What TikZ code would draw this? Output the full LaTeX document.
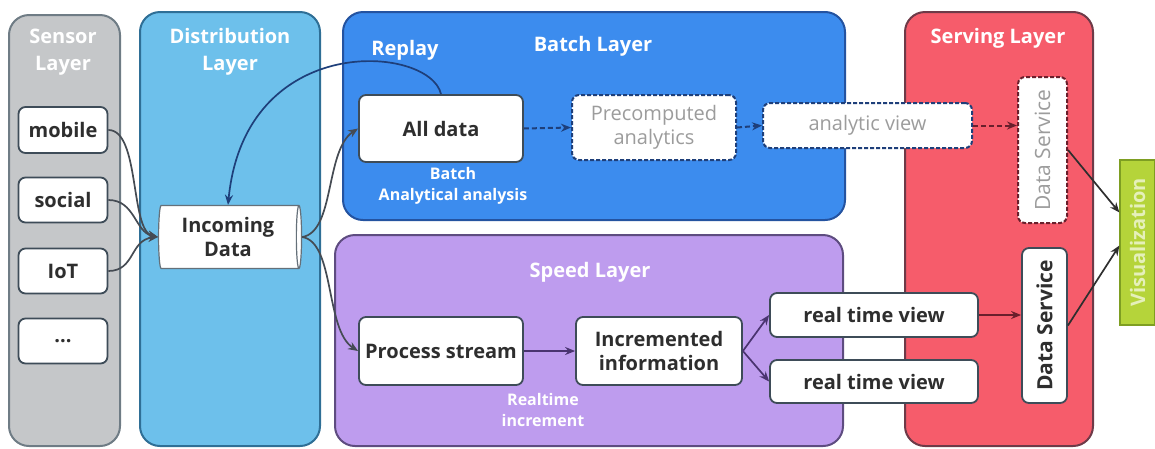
\documentclass[tikz,border=0pt]{standalone}
\usepackage{fontspec}
\usepackage{graphicx}
\setmainfont{Open Sans}
\usetikzlibrary{shapes.geometric,arrows.meta,calc}

\definecolor{sensorbg}{HTML}{C5C7C9}
\definecolor{sensorbd}{HTML}{6F7C85}
\definecolor{distbg}{HTML}{6DC0EB}
\definecolor{distbd}{HTML}{2F6F96}
\definecolor{batchbg}{HTML}{3C8CEE}
\definecolor{batchbd}{HTML}{2453A0}
\definecolor{speedbg}{HTML}{BE9CEE}
\definecolor{speedbd}{HTML}{5E4C80}
\definecolor{servebg}{HTML}{F65C6B}
\definecolor{servebd}{HTML}{6E3A48}
\definecolor{vizbg}{HTML}{B5D43A}
\definecolor{vizbd}{HTML}{7E9E22}
\definecolor{boxbd}{HTML}{3E4C58}
\definecolor{boxtxt}{HTML}{2E2E2E}
\definecolor{fadetxt}{HTML}{9C9C9C}
\definecolor{lnsensor}{HTML}{454B53}
\definecolor{lnblue}{HTML}{1E3F7A}
\definecolor{lnpurple}{HTML}{4A3470}
\definecolor{lnred}{HTML}{6A1F2C}

\tikzset{
  panel/.style={rounded corners=20pt, line width=2pt},
  box/.style={draw=boxbd, fill=white, rounded corners=7pt, line width=1.8pt,
    text=boxtxt, font=\fontsize{20}{24}\selectfont\bfseries, align=center,
    inner sep=2pt},
  fadebox/.style={box, dashed, dash pattern=on 4pt off 2pt, line width=2pt, text=fadetxt,
    font=\fontsize{20}{24}\selectfont},
  title/.style={text=white, font=\fontsize{20}{27}\selectfont\bfseries, align=center},
  note/.style={text=white, font=\fontsize{16}{21}\selectfont\bfseries, align=center},
  arr/.style={line width=1.7pt, -{Stealth[length=10pt,width=8pt]}},
  dasharr/.style={arr, line width=2pt, dashed, dash pattern=on 5pt off 3pt},
}

\begin{document}
\begin{tikzpicture}[x=1pt,y=-1pt]
\useasboundingbox (0,0) rectangle (1155,448);

% layer panels
\draw[panel, fill=sensorbg, draw=sensorbd] (9,15) rectangle (120,446);
\draw[panel, fill=distbg, draw=distbd] (140,12) rectangle (320,446);
\draw[panel, fill=batchbg, draw=batchbd] (343,12) rectangle (845,220);
\draw[panel, fill=speedbg, draw=speedbd] (335,235) rectangle (843,446);
\draw[panel, fill=servebg, draw=servebd] (905,12) rectangle (1093,446);

% panel titles and notes
\node[title] (tsensor) at (63,52) {Sensor\\Layer};
\node[title] (tdist) at (230,52) {Distribution\\Layer};
\node[title] (tbatch) at (593,46) {Batch Layer};
\node[title] (treplay) at (405,50) {Replay};
\node[note] (tbatchnote) at (453,186) {Batch\\Analytical analysis};
\node[title] (tspeed) at (590,272) {Speed Layer};
\node[note] (tspeednote) at (543,410) {Realtime\\increment};
\node[title] (tserve) at (998,38) {Serving Layer};

% sources
\node[box, minimum width=89pt, minimum height=46pt] (mobile) at (63,130) {mobile};
\node[box, minimum width=89pt, minimum height=45pt] (social) at (63,200) {social};
\node[box, minimum width=89pt, minimum height=45pt] (iot) at (63,271) {IoT};
\node[box, minimum width=89pt, minimum height=45pt] (more) at (63,341) {...};

% distribution queue
\node[cylinder, draw=boxbd!80, fill=white, line width=1.2pt, shape aspect=0.12,
  minimum width=63pt, minimum height=143pt, inner sep=2pt, text=boxtxt, align=center,
  font=\fontsize{20}{24}\selectfont\bfseries] (incoming) at (228,237)
  {Incoming\\Data};

% batch layer
\node[box, minimum width=164pt, minimum height=67pt] (alldata) at (441,128.5) {All data};
\node[fadebox, draw=lnblue, minimum width=164pt, minimum height=65pt] (precomp) at (654,127.5)
  {Precomputed\\analytics};
\node[fadebox, draw=lnblue, minimum width=209pt, minimum height=45pt] (aview) at (867.5,125.5)
  {analytic view};

% speed layer
\node[box, minimum width=164pt, minimum height=68pt] (process) at (441,351) {Process stream};
\node[box, minimum width=166pt, minimum height=68pt] (incr) at (659,351)
  {Incremented\\information};
\node[box, minimum width=208pt, minimum height=44pt] (rtvA) at (874,315) {real time view};
\node[box, minimum width=208pt, minimum height=43pt] (rtvB) at (874,381.5) {real time view};

% serving layer
\node[fadebox, draw=lnred, minimum width=49pt, minimum height=146pt, inner sep=0pt,
  font=\fontsize{21}{24}\selectfont] (dsA) at (1042.5,150)
  {\rotatebox{90}{Data Service}};
\node[box, minimum width=45pt, minimum height=155pt, inner sep=0pt,
  font=\fontsize{21}{24}\selectfont\bfseries] (dsB) at (1044.5,325.5)
  {\rotatebox{90}{Data Service}};

% visualization
\node[draw=vizbd, fill=vizbg, line width=1.2pt, minimum width=35pt, minimum height=165pt,
  inner sep=0pt, text=white!65!vizbg, font=\fontsize{20}{22}\selectfont\bfseries] (viz) at (1137.5,242.5)
  {\rotatebox{90}{Visualization}};

% sources into the queue
\draw[arr, draw=lnsensor] (mobile.east) .. controls (140,130) and (130,230) .. (incoming.west);
\draw[arr, draw=lnsensor] (social.east) .. controls (135,200) and (135,232) .. (incoming.west);
\draw[arr, draw=lnsensor] (iot.east) .. controls (135,271) and (130,240) .. (incoming.west);

% replay loop back into the queue
\draw[arr, draw=lnblue] (alldata.north) .. controls (430,45) and (245,30) .. (incoming.north);

% queue fan-out
\draw[arr, draw=lnsensor] (incoming.east) .. controls (335,232) and (325,150) .. (alldata.west);
\draw[arr, draw=lnsensor] (incoming.east) .. controls (335,242) and (325,330) .. (process.west);

% batch path
\draw[dasharr, draw=lnblue] (alldata.east) -- (precomp.west);
\draw[dasharr, draw=lnblue] (precomp.east) -- (aview.west);
\draw[dasharr, draw=lnred] (aview.east) -- (aview.east -| dsA.west);

% speed path
\draw[arr, draw=lnpurple] (process.east) -- (incr.west);
\draw[arr, draw=lnpurple] (incr.east) -- (rtvA.west);
\draw[arr, draw=lnpurple] (incr.east) -- (rtvB.west);
\draw[arr, draw=lnred] (rtvA.east) -- (rtvA.east -| dsB.west);

% services into visualization
\draw[arr, draw=boxtxt] (dsA.east) -- ([yshift=30pt]viz.west);
\draw[arr, draw=boxtxt] (dsB.east) -- ([yshift=-3pt]viz.west);
\end{tikzpicture}
\end{document}
